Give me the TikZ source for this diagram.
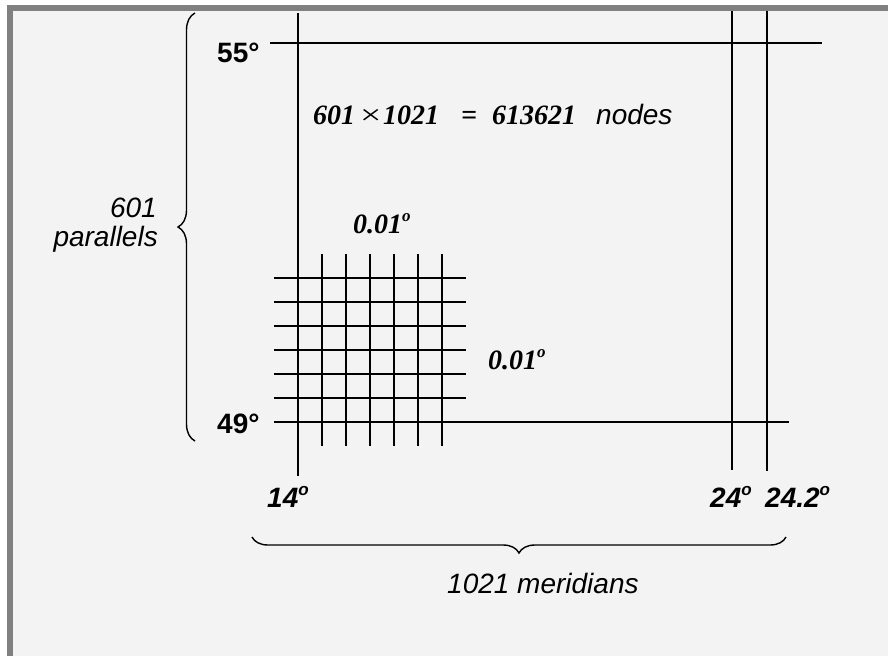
\documentclass[tikz,border=0pt]{standalone}
\usepackage{fontspec}
\setmainfont{Liberation Sans}
\newfontfamily\tms{Liberation Serif}
\usetikzlibrary{decorations.pathreplacing}
\definecolor{bg}{HTML}{F3F3F3}
\definecolor{framegray}{HTML}{808080}
\newcommand{\supo}{\raisebox{0.42em}{\fontsize{17}{17}\selectfont o}}
\begin{document}
\begin{tikzpicture}[x=1pt,y=-1pt,line cap=butt,
  ln/.style={line width=1.8pt},
  thick ln/.style={line width=2.7pt},
  br/.style={decorate,decoration={brace,amplitude=#1},line width=1.4pt},
  lb/.style={inner sep=0pt,anchor=base west,font=\bfseries\fontsize{28}{32}\selectfont},
  lbi/.style={inner sep=0pt,anchor=base west,font=\bfseries\itshape\fontsize{28}{32}\selectfont},
  lti/.style={inner sep=0pt,anchor=base west,font=\tms\bfseries\itshape\fontsize{28}{32}\selectfont},
  li/.style={inner sep=0pt,font=\itshape\fontsize{28}{32}\selectfont}]
\useasboundingbox (0,0) rectangle (888,656);
% background and frame
\fill[white] (0,0) rectangle (888,656);
\fill[bg] (7,5) rectangle (888,656);
\fill[framegray] (7,5) rectangle (888,11);
\fill[framegray] (7,5) rectangle (13,656);

% main meridians and parallels
\coordinate (m14t) at (298,13);  \coordinate (m14b) at (298,476);
\coordinate (m24t) at (732,11);  \coordinate (m24b) at (732,470);
\coordinate (m242t) at (767,11); \coordinate (m242b) at (767,471);
\coordinate (p55l) at (270,43);  \coordinate (p55r) at (822,43);
\coordinate (p49l) at (274,422); \coordinate (p49r) at (789,422);
\draw[ln] (m14t) -- (m14b);
\draw[ln] (m24t) -- (m24b);
\draw[thick ln] (m242t) -- (m242b);
\draw[ln] (p55l) -- (p55r);
\draw[ln] (p49l) -- (p49r);

% fine grid
\foreach \x in {322,346,370,394,418,442}
  \draw[ln] (\x,254) -- (\x,446);
\foreach \y in {278,302,326,350,374,398}
  \draw[ln] (274,\y) -- (466,\y);

% braces
\coordinate (bl1) at (195,441); \coordinate (bl2) at (195,13);
\draw[br=17pt] (bl1) -- (bl2);
\coordinate (bb1) at (786,537); \coordinate (bb2) at (252,537);
\draw[br=16pt] (bb1) -- (bb2);

% labels
\node[lb] (t55) at (217,62.5) {55°};
\node[lb] (t49) at (217,433) {49°};
\node[lbi] (t14) at (267,507) {14\supo};
\node[lbi] (t24) at (710,507) {24\supo};
\node[lbi] (t242) at (765,507) {24.2\supo};

\node[lti] (f1) at (313,124) {601};
\node[inner sep=0pt,anchor=base west,font=\tms\fontsize{28}{32}\selectfont] (f2) at (360,124) {\scalebox{1.35}[1]{×}};
\node[lti] (f3) at (383,124) {1021};
\node[lti] (f4) at (461,124) {=};
\node[lti] (f5) at (492,124) {613621};
\node[li,anchor=base west] (f6) at (596,124) {nodes};

\node[lti] (d1) at (353,233) {0.01\supo};
\node[lti] (d2) at (488,369) {0.01\supo};

\node[li,anchor=base east] (p1) at (157,217) {601};
\node[li,anchor=base east] (p2) at (158,246) {parallels};
\node[li,anchor=base west] (mer) at (447,593) {1021 meridians};
\end{tikzpicture}
\end{document}
